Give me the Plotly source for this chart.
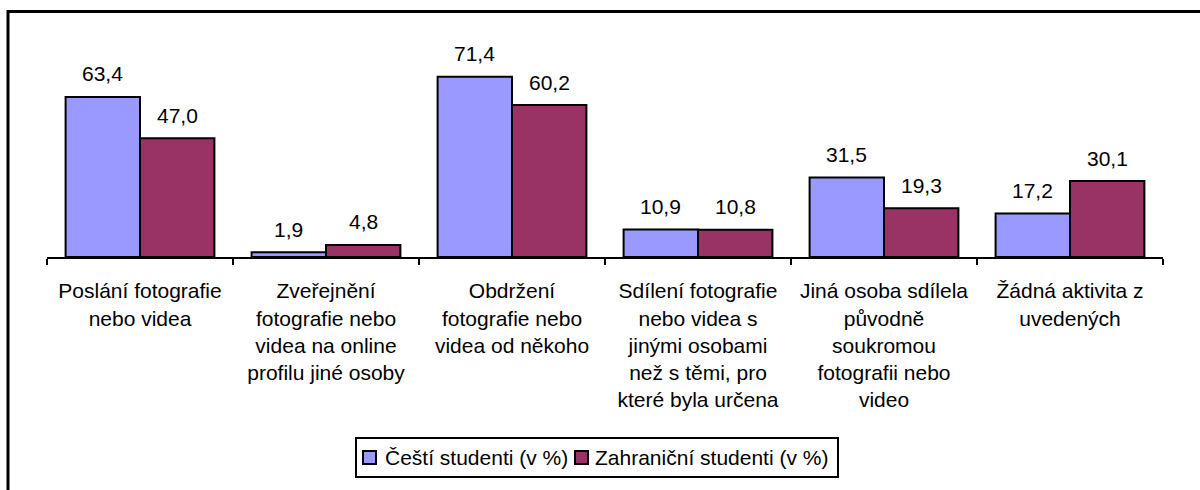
import plotly.graph_objects as go

categories = [
    "Poslání fotografie<br>nebo videa",
    "Zveřejnění<br>fotografie nebo<br>videa na online<br>profilu jiné osoby",
    "Obdržení<br>fotografie nebo<br>videa od někoho",
    "Sdílení fotografie<br>nebo videa s<br>jinými osobami<br>než s těmi, pro<br>které byla určena",
    "Jiná osoba sdílela<br>původně<br>soukromou<br>fotografii nebo<br>video",
    "Žádná aktivita z<br>uvedených",
]
czech = [63.4, 1.9, 71.4, 10.9, 31.5, 17.2]
foreign = [47.0, 4.8, 60.2, 10.8, 19.3, 30.1]
series_names = ["Čeští studenti (v %)", "Zahraniční studenti (v %)"]
colors = ["#9999FF", "#993366"]

FONT = "Liberation Sans, Arial, sans-serif"
FS = 21

# plot area in pixels (for converting layout decorations to paper coords)
L, R, T, B, W, H = 47, 37, 55, 233, 1200, 490
PW, PH = W - L - R, H - T - B


def px(x):
    return (x - L) / PW


def py(y):
    return (H - B - y) / PH


fig = go.Figure()
for name, vals, col in zip(series_names, [czech, foreign], colors):
    fig.add_trace(go.Bar(
        x=categories, y=vals, name=name, showlegend=False,
        marker=dict(color=col, line=dict(color="black", width=2)),
    ))


def fmt(v):
    return f"{v:.1f}".replace(".", ",")


annotations = []
for vals, shift in [(czech, -37.2), (foreign, 37.2)]:
    for c, v in zip(categories, vals):
        annotations.append(dict(
            x=c, y=v, xref="x", yref="y", text=fmt(v), showarrow=False,
            xshift=shift, yshift=23, yanchor="middle",
            font=dict(family=FONT, size=FS, color="black"),
        ))

shapes = [
    # outer chart frame
    dict(type="rect", xref="paper", yref="paper",
         x0=px(8), x1=px(1260), y0=py(560), y1=py(11.5),
         line=dict(color="black", width=3), fillcolor="rgba(0,0,0,0)", layer="below"),
    # legend box
    dict(type="rect", xref="paper", yref="paper",
         x0=px(356), x1=px(838), y0=py(477), y1=py(438),
         line=dict(color="black", width=2), fillcolor="white", layer="above"),
]
legend_items = [(363, 383), (575, 593)]
for (sx, tx), name, col in zip(legend_items, series_names, colors):
    shapes.append(dict(type="rect", xref="paper", yref="paper",
                       x0=px(sx), x1=px(sx + 13), y0=py(464), y1=py(451),
                       line=dict(color="black", width=2), fillcolor=col, layer="above"))
    annotations.append(dict(x=px(tx), y=py(457.5), xref="paper", yref="paper",
                            text=name, showarrow=False, xanchor="left", yanchor="middle",
                            font=dict(family=FONT, size=FS, color="black")))

fig.update_layout(
    width=W, height=H,
    margin=dict(l=L, r=R, t=T, b=B),
    paper_bgcolor="white", plot_bgcolor="white",
    barmode="group", bargap=0.2, bargroupgap=0,
    font=dict(family=FONT, size=FS, color="black"),
    showlegend=False,
    annotations=annotations,
    shapes=shapes,
)
fig.update_xaxes(
    showline=True, linecolor="black", linewidth=2,
    ticks="outside", ticklen=6, tickwidth=2, tickcolor="black",
    tickson="boundaries", showgrid=False, range=[-0.5, 5.5],
    tickfont=dict(family=FONT, size=FS, color="black"),
    ticklabelstandoff=14,
)
fig.update_yaxes(
    range=[0, 80], showticklabels=False, showgrid=False, zeroline=False,
    showline=False, ticks="",
)

fig.write_html("out.html", config={"displayModeBar": False},
               post_script="document.body.style.margin='0';")
